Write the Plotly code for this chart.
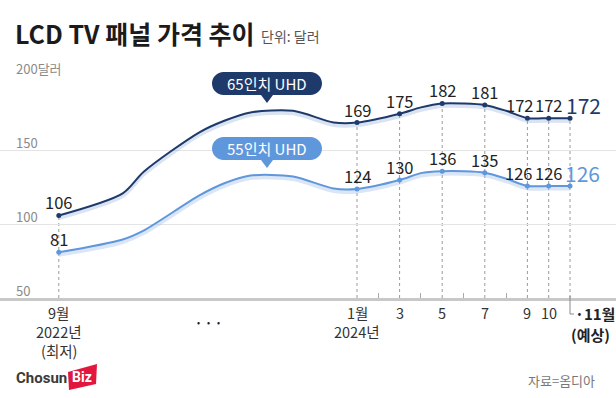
import plotly.graph_objects as go

# ---------------- data ----------------
title = "LCD TV 패널 가격 추이"
unit = "단위: 달러"
source = "자료=옴디아"
series_names = ["65인치 UHD", "55인치 UHD"]

# x position: months from Jan 2024 (axis is compressed before 2024)
label_x = [-14, 0, 2, 4, 6, 8, 9, 10]
p65 = [106, 169, 175, 182, 181, 172, 172, 172]
p55 = [81, 124, 130, 136, 135, 126, 126, 126]

# smooth path (unlabelled intermediate readings between labelled points)
curve_x = [-14, -11, -10, -7.4, -6.2, -5, -3, -1.1, 0, 2, 3, 4, 5, 6, 7, 8, 9, 10]
curve65 = [106, 121, 135.8, 162.4, 170.4, 175.9, 177, 169.1, 169, 175, 179.3, 182, 182, 181, 177, 172, 172, 172]
curve55 = [81, 89.7, 95.9, 119.6, 128, 133.1, 132.4, 124.3, 124, 130, 134.7, 136, 136, 135, 131, 126, 126, 126]

minor_ticks = [1, 3, 5, 7]
grid_vals = [100, 150, 200]
ytick_vals = [200, 150, 100, 50]
ytick_text = ["200달러", "150", "100", "50"]

bottom_x = [0, 2, 4, 6, 8, 9]
bottom_text = ["1월", "3", "5", "7", "9", "10"]

# ---------------- style ----------------
W, H = 616, 398
ML, MR, MT, MB = 0, 0, 76, 100
PH = H - MT - MB
FONT = "Noto Sans CJK KR"
C65 = "#1e3a6a"
C55 = "#5f97dc"
X0_PX, UNIT_PX = 357, 21.3
xr = [(0 - X0_PX) / UNIT_PX, (W - X0_PX) / UNIT_PX]


def px(p):
    return p / W


def py(p):
    return (H - MB - p) / PH


fig = go.Figure()

# shadows
for cy, col in [(curve65, "rgba(150,175,215,0.35)"), (curve55, "rgba(150,180,225,0.35)")]:
    fig.add_trace(go.Scatter(x=curve_x, y=[v - 1.7 for v in cy], mode="lines",
                             line=dict(color=col, width=4, shape="spline", smoothing=0.8),
                             hoverinfo="skip", showlegend=False))
# lines
for cy, col in [(curve65, C65), (curve55, C55)]:
    fig.add_trace(go.Scatter(x=curve_x, y=cy, mode="lines",
                             line=dict(color=col, width=2, shape="spline", smoothing=0.8),
                             hoverinfo="skip", showlegend=False))
# markers
for vals, col, name in [(p65, C65, series_names[0]), (p55, C55, series_names[1])]:
    fig.add_trace(go.Scatter(x=label_x, y=vals, mode="markers", name=name,
                             marker=dict(color=col, size=5), cliponaxis=False, showlegend=False))

shapes = []
# dotted guide lines
for x, v in zip(label_x, p65):
    shapes.append(dict(type="line", xref="x", yref="y", x0=x, x1=x, y0=50, y1=v,
                       line=dict(color="#9a9a9a", width=1, dash="dot"), layer="below"))
# L bracket for November
nx = X0_PX + UNIT_PX * 10
shapes.append(dict(type="path", xref="paper", yref="paper",
                   path=f"M {px(nx)},{py(296)} L {px(nx)},{py(314)} L {px(nx + 4)},{py(314)}",
                   line=dict(color="#8a8a8a", width=1)))


def bubble(x0, x1, y0, y1, tipx, tipy, color):
    r = (y1 - y0) / 2
    k = 0.55 * r
    p = (f"M {px(x0 + r)},{py(y0)} L {px(x1 - r)},{py(y0)} "
         f"C {px(x1 - r + k)},{py(y0)} {px(x1)},{py(y0 + r - k)} {px(x1)},{py(y0 + r)} "
         f"C {px(x1)},{py(y1 - r + k)} {px(x1 - r + k)},{py(y1)} {px(x1 - r)},{py(y1)} "
         f"L {px(tipx + 6)},{py(y1)} L {px(tipx)},{py(tipy)} L {px(tipx - 6)},{py(y1)} "
         f"L {px(x0 + r)},{py(y1)} "
         f"C {px(x0 + r - k)},{py(y1)} {px(x0)},{py(y1 - r + k)} {px(x0)},{py(y1 - r)} "
         f"C {px(x0)},{py(y0 + r - k)} {px(x0 + r - k)},{py(y0)} {px(x0 + r)},{py(y0)} Z")
    return dict(type="path", xref="paper", yref="paper", path=p,
                fillcolor=color, line=dict(width=0), layer="above")


shapes.append(bubble(212, 322, 72, 95, 267, 103, C65))
shapes.append(bubble(212, 322, 137, 160, 267, 168, C55))

# ChosunBiz logo red block
shapes.append(dict(type="path", xref="paper", yref="paper",
                   path=f"M {px(68)},{py(372)} L {px(97)},{py(364)} L {px(96)},{py(384)} L {px(69)},{py(390)} Z",
                   fillcolor="#e3173e", line=dict(width=0)))

ann = []


def A(text, x, y, size, color="#333", xanchor="center", bold=False, family=FONT, **kw):
    if bold:
        text = f"<b>{text}</b>"
    d = dict(text=text, x=px(x), y=py(y), xref="paper", yref="paper", showarrow=False,
             xanchor=xanchor, yanchor="middle", font=dict(family=family, size=size, color=color))
    d.update(kw)
    ann.append(d)


A(title, 13, 33, 25, "#1b1b1b", "left", bold=True)
A(unit, 259, 36, 14, "#555", "left")

# y tick labels
for v, t in zip(ytick_vals, ytick_text):
    ann.append(dict(text=t, x=px(14), y=v, xref="paper", yref="y", yshift=8, showarrow=False,
                    xanchor="left", yanchor="middle", font=dict(family=FONT, size=13, color="#8a8a8a")))

# value labels
shift65 = [0, 0, 0, 0, 0, -8, 0, 13]
shift55 = [0, 0, 0, 0, 0, -9, 0, 12]
for i, (x, v) in enumerate(zip(label_x, p65)):
    last = i == len(label_x) - 1
    ann.append(dict(text=str(v), x=x, y=v, xref="x", yref="y", showarrow=False,
                    xshift=shift65[i], yshift=13, xanchor="center", yanchor="middle",
                    font=dict(family=FONT, size=21 if last else 16.5, color=C65 if last else "#222")))
for i, (x, v) in enumerate(zip(label_x, p55)):
    last = i == len(label_x) - 1
    ann.append(dict(text=str(v), x=x, y=v, xref="x", yref="y", showarrow=False,
                    xshift=shift55[i], yshift=13, xanchor="center", yanchor="middle",
                    font=dict(family=FONT, size=21 if last else 16.5, color=C55 if last else "#222")))

# bubble texts
A(series_names[0], 267, 83.5, 15, "white")
A(series_names[1], 267, 148.5, 15, "white")

# bottom labels
for x, t in zip(bottom_x, bottom_text):
    ann.append(dict(text=t, x=x, y=py(312), xref="x", yref="paper", showarrow=False,
                    xanchor="center", yanchor="middle", font=dict(family=FONT, size=14.5, color="#333")))
ann.append(dict(text="2024년", x=0, y=py(331), xref="x", yref="paper", showarrow=False,
                xanchor="center", yanchor="middle", font=dict(family=FONT, size=14.5, color="#333")))
for t, yy in [("9월", 312), ("2022년", 331), ("(최저)", 350)]:
    ann.append(dict(text=t, x=label_x[0], y=py(yy), xref="x", yref="paper", showarrow=False,
                    xanchor="center", yanchor="middle", font=dict(family=FONT, size=14.5, color="#333")))
for dx in (198, 208, 218):
    A("•", dx, 322, 9, "#222")
A("·11월", 573, 313, 15, "#222", "left", bold=True)
A("(예상)", 590, 334, 15, "#222", bold=True)

# logo + source
A("Chosun", 69, 378, 15, "#3a3a3a", "right", bold=True, family="Roboto")
A("Biz", 82, 377, 14, "white", bold=True, family="Roboto")
A(source, 597, 380, 13, "#777", "right")

fig.update_layout(
    width=W, height=H, margin=dict(l=ML, r=MR, t=MT, b=MB),
    paper_bgcolor="white", plot_bgcolor="white",
    font=dict(family=FONT),
    xaxis=dict(range=xr, showgrid=False, zeroline=False, showline=True, linecolor="#c8c8c8",
               linewidth=2.5, ticks="inside", tickvals=minor_ticks, ticklen=5, tickcolor="#aaaaaa",
               tickwidth=1, showticklabels=False, fixedrange=True),
    yaxis=dict(range=[50, 200.6], tickvals=grid_vals, showticklabels=False, gridcolor="#e4e4e4",
               gridwidth=1, zeroline=False, showline=False, fixedrange=True),
    shapes=shapes, annotations=ann, showlegend=False,
)

fig.write_html("out.html", config={"displayModeBar": False},
               post_script="document.body.style.margin='0';document.body.style.padding='0';")
